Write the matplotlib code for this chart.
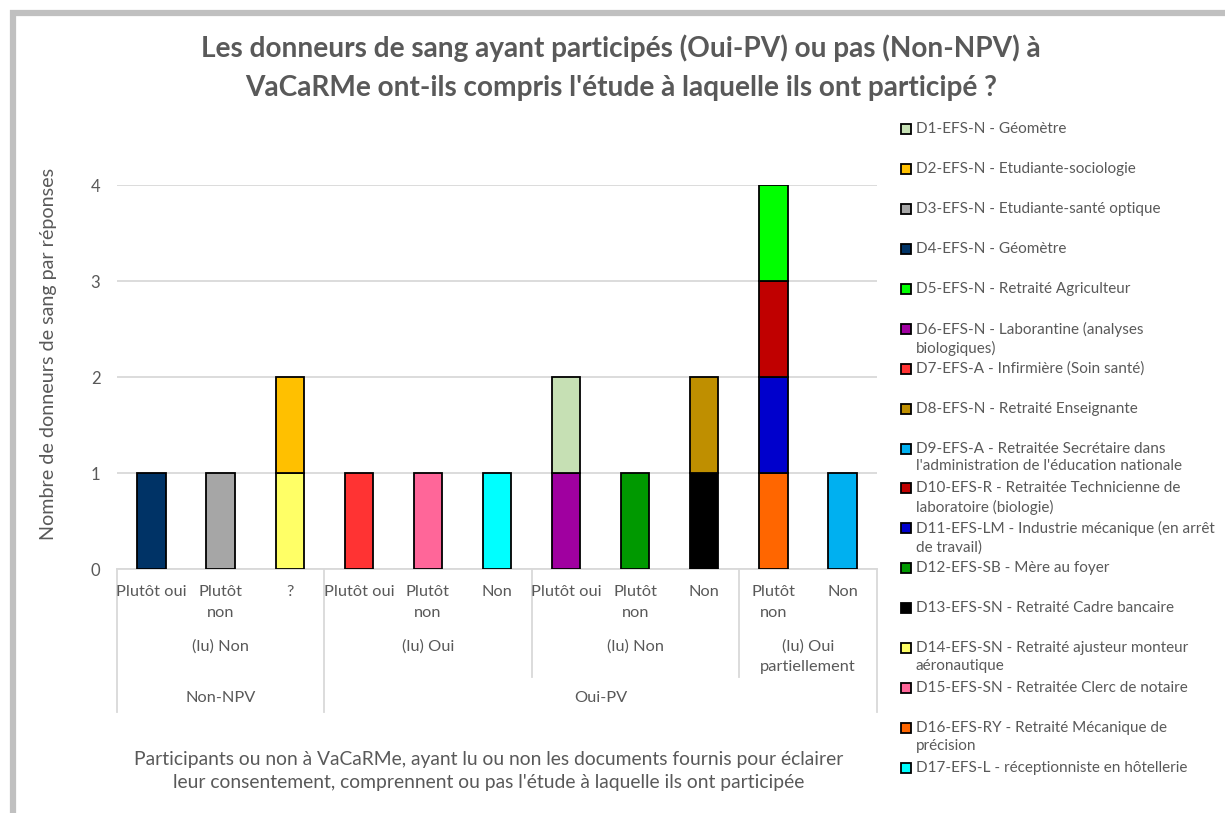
import numpy as np
import matplotlib
matplotlib.use("Agg")
import matplotlib.pyplot as plt
from matplotlib.patches import Rectangle
from matplotlib.transforms import blended_transform_factory

# ── DONNEES ─────────────────────────────────────
reponses = ["Plutôt oui", "Plutôt\nnon", "?",
            "Plutôt oui", "Plutôt\nnon", "Non",
            "Plutôt oui", "Plutôt\nnon", "Non",
            "Plutôt\nnon", "Non"]
lecture = [("(lu) Non", 0, 2), ("(lu) Oui", 3, 5),
           ("(lu) Non", 6, 8), ("(lu) Oui\npartiellement", 9, 10)]
participation = [("Non-NPV", 0, 2), ("Oui-PV", 3, 10)]

donneurs = [
    "D1-EFS-N - Géomètre",
    "D2-EFS-N - Etudiante-sociologie",
    "D3-EFS-N - Etudiante-santé optique",
    "D4-EFS-N - Géomètre",
    "D5-EFS-N - Retraité Agriculteur",
    "D6-EFS-N - Laborantine (analyses\nbiologiques)",
    "D7-EFS-A - Infirmière (Soin santé)",
    "D8-EFS-N - Retraité Enseignante",
    "D9-EFS-A - Retraitée Secrétaire dans\nl'administration de l'éducation nationale",
    "D10-EFS-R - Retraitée Technicienne de\nlaboratoire (biologie)",
    "D11-EFS-LM - Industrie mécanique (en arrêt\nde travail)",
    "D12-EFS-SB - Mère au foyer",
    "D13-EFS-SN - Retraité Cadre bancaire",
    "D14-EFS-SN - Retraité ajusteur monteur\naéronautique",
    "D15-EFS-SN - Retraitée Clerc de notaire",
    "D16-EFS-RY - Retraité Mécanique de\nprécision",
    "D17-EFS-L - réceptionniste en hôtellerie",
]
couleurs = ["#C6E0B4", "#FFC000", "#A6A6A6", "#003366", "#00FF00",
            "#A000A0", "#FF3333", "#BF8F00", "#00B0F0", "#C00000",
            "#0000CC", "#009900", "#000000", "#FFFF66", "#FF6699",
            "#FF6600", "#00FFFF"]
# une ligne par donneur, une colonne par réponse
valeurs = [
    [0, 0, 0, 0, 0, 0, 1, 0, 0, 0, 0],  # D1
    [0, 0, 1, 0, 0, 0, 0, 0, 0, 0, 0],  # D2
    [0, 1, 0, 0, 0, 0, 0, 0, 0, 0, 0],  # D3
    [1, 0, 0, 0, 0, 0, 0, 0, 0, 0, 0],  # D4
    [0, 0, 0, 0, 0, 0, 0, 0, 0, 1, 0],  # D5
    [0, 0, 0, 0, 0, 0, 1, 0, 0, 0, 0],  # D6
    [0, 0, 0, 1, 0, 0, 0, 0, 0, 0, 0],  # D7
    [0, 0, 0, 0, 0, 0, 0, 0, 1, 0, 0],  # D8
    [0, 0, 0, 0, 0, 0, 0, 0, 0, 0, 1],  # D9
    [0, 0, 0, 0, 0, 0, 0, 0, 0, 1, 0],  # D10
    [0, 0, 0, 0, 0, 0, 0, 0, 0, 1, 0],  # D11
    [0, 0, 0, 0, 0, 0, 0, 1, 0, 0, 0],  # D12
    [0, 0, 0, 0, 0, 0, 0, 0, 1, 0, 0],  # D13
    [0, 0, 1, 0, 0, 0, 0, 0, 0, 0, 0],  # D14
    [0, 0, 0, 0, 1, 0, 0, 0, 0, 0, 0],  # D15
    [0, 0, 0, 0, 0, 0, 0, 0, 0, 1, 0],  # D16
    [0, 0, 0, 0, 0, 1, 0, 0, 0, 0, 0],  # D17
]

GRIS = "#595959"
LIGNE = "#D9D9D9"
plt.rcParams["font.family"] = ["Lato", "DejaVu Sans"]

W, H = 1225, 813
fig = plt.figure(figsize=(W / 100, H / 100), dpi=100)


def fy(py):
    """pixel (depuis le haut) -> fraction de figure"""
    return 1 - py / H


# cadre gris (capture coupée à droite et en bas)
fig.patches.append(Rectangle((13 / W, -0.1), 2, fy(13) + 0.1, transform=fig.transFigure,
                             fill=False, edgecolor="#C0C0C0", linewidth=4.5))

ax = fig.add_axes([117 / W, fy(569), (877 - 117) / W, (569 - 185) / H])

# ── BARRES EMPILEES (D17 en bas ... D1 en haut) ──
x = np.arange(len(reponses))
base = np.zeros(len(reponses))
for i in reversed(range(len(donneurs))):
    v = np.array(valeurs[i], dtype=float)
    m = v > 0
    ax.bar(x[m], v[m], bottom=base[m], width=0.41, color=couleurs[i],
           edgecolor="black", linewidth=1.3, zorder=3)
    base += v

ax.set_xlim(-0.5, len(reponses) - 0.5)
ax.set_ylim(0, 4)
ax.set_yticks(range(5))
ax.tick_params(axis="y", length=0, labelsize=12, labelcolor=GRIS, pad=12)
ax.set_xticks([])
ax.grid(axis="y", color=LIGNE, linewidth=1.3, zorder=0)
for s in ["top", "right", "left"]:
    ax.spines[s].set_visible(False)
ax.spines["bottom"].set_color(LIGNE)
ax.spines["bottom"].set_linewidth(1.3)
ax.set_ylabel("Nombre de donneurs de sang par réponses", fontsize=14.2, color=GRIS)
ax.yaxis.set_label_coords(57 / W, fy(354), transform=fig.transFigure)

# ── AXE X MULTI-NIVEAUX ──────────────────────────
tr = blended_transform_factory(ax.transData, fig.transFigure)
for i, r in enumerate(reponses):
    ax.text(i, fy(585), r, transform=tr, ha="center", va="top", fontsize=11.8,
            color=GRIS, linespacing=1.6)
for lab, a, b in lecture:
    ax.text((a + b) / 2, fy(639), lab, transform=tr, ha="center", va="top",
            fontsize=11.8, color=GRIS, linespacing=1.6)
for lab, a, b in participation:
    ax.text((a + b) / 2, fy(691), lab, transform=tr, ha="center", va="top",
            fontsize=11.8, color=GRIS)

for a, bas in [(-0.5, 712), (2.5, 712), (5.5, 677), (8.5, 677), (10.5, 712)]:
    ax.plot([a, a], [fy(569), fy(bas)], transform=tr, color=LIGNE,
            linewidth=1.3, clip_on=False)

# ── TITRES ───────────────────────────────────────
fig.text(621 / W, fy(68), "Les donneurs de sang ayant participés (Oui-PV) ou pas (Non-NPV) à\n"
         "VaCaRMe ont-ils compris l'étude à laquelle ils ont participé ?",
         ha="center", va="center", fontsize=20.2, fontweight="bold", color=GRIS,
         linespacing=1.6)
fig.text(489 / W, fy(771), "Participants ou non à VaCaRMe, ayant lu ou non les documents fournis pour éclairer\n"
         "leur consentement, comprennent ou pas l'étude à laquelle ils ont participée",
         ha="center", va="center", fontsize=13.9, color=GRIS, linespacing=1.45)

# ── LEGENDE ──────────────────────────────────────
for i, (nom, c) in enumerate(zip(donneurs, couleurs)):
    py = 129 + 39.94 * i
    fig.patches.append(Rectangle((901 / W, fy(py + 5)), 10 / W, 10 / H,
                                 transform=fig.transFigure, facecolor=c,
                                 edgecolor="black", linewidth=1.3))
    fig.text(916 / W, fy(py - 7), nom, ha="left", va="top", fontsize=11.0,
             color=GRIS, linespacing=1.35)

fig.savefig("out.png", dpi=100)
